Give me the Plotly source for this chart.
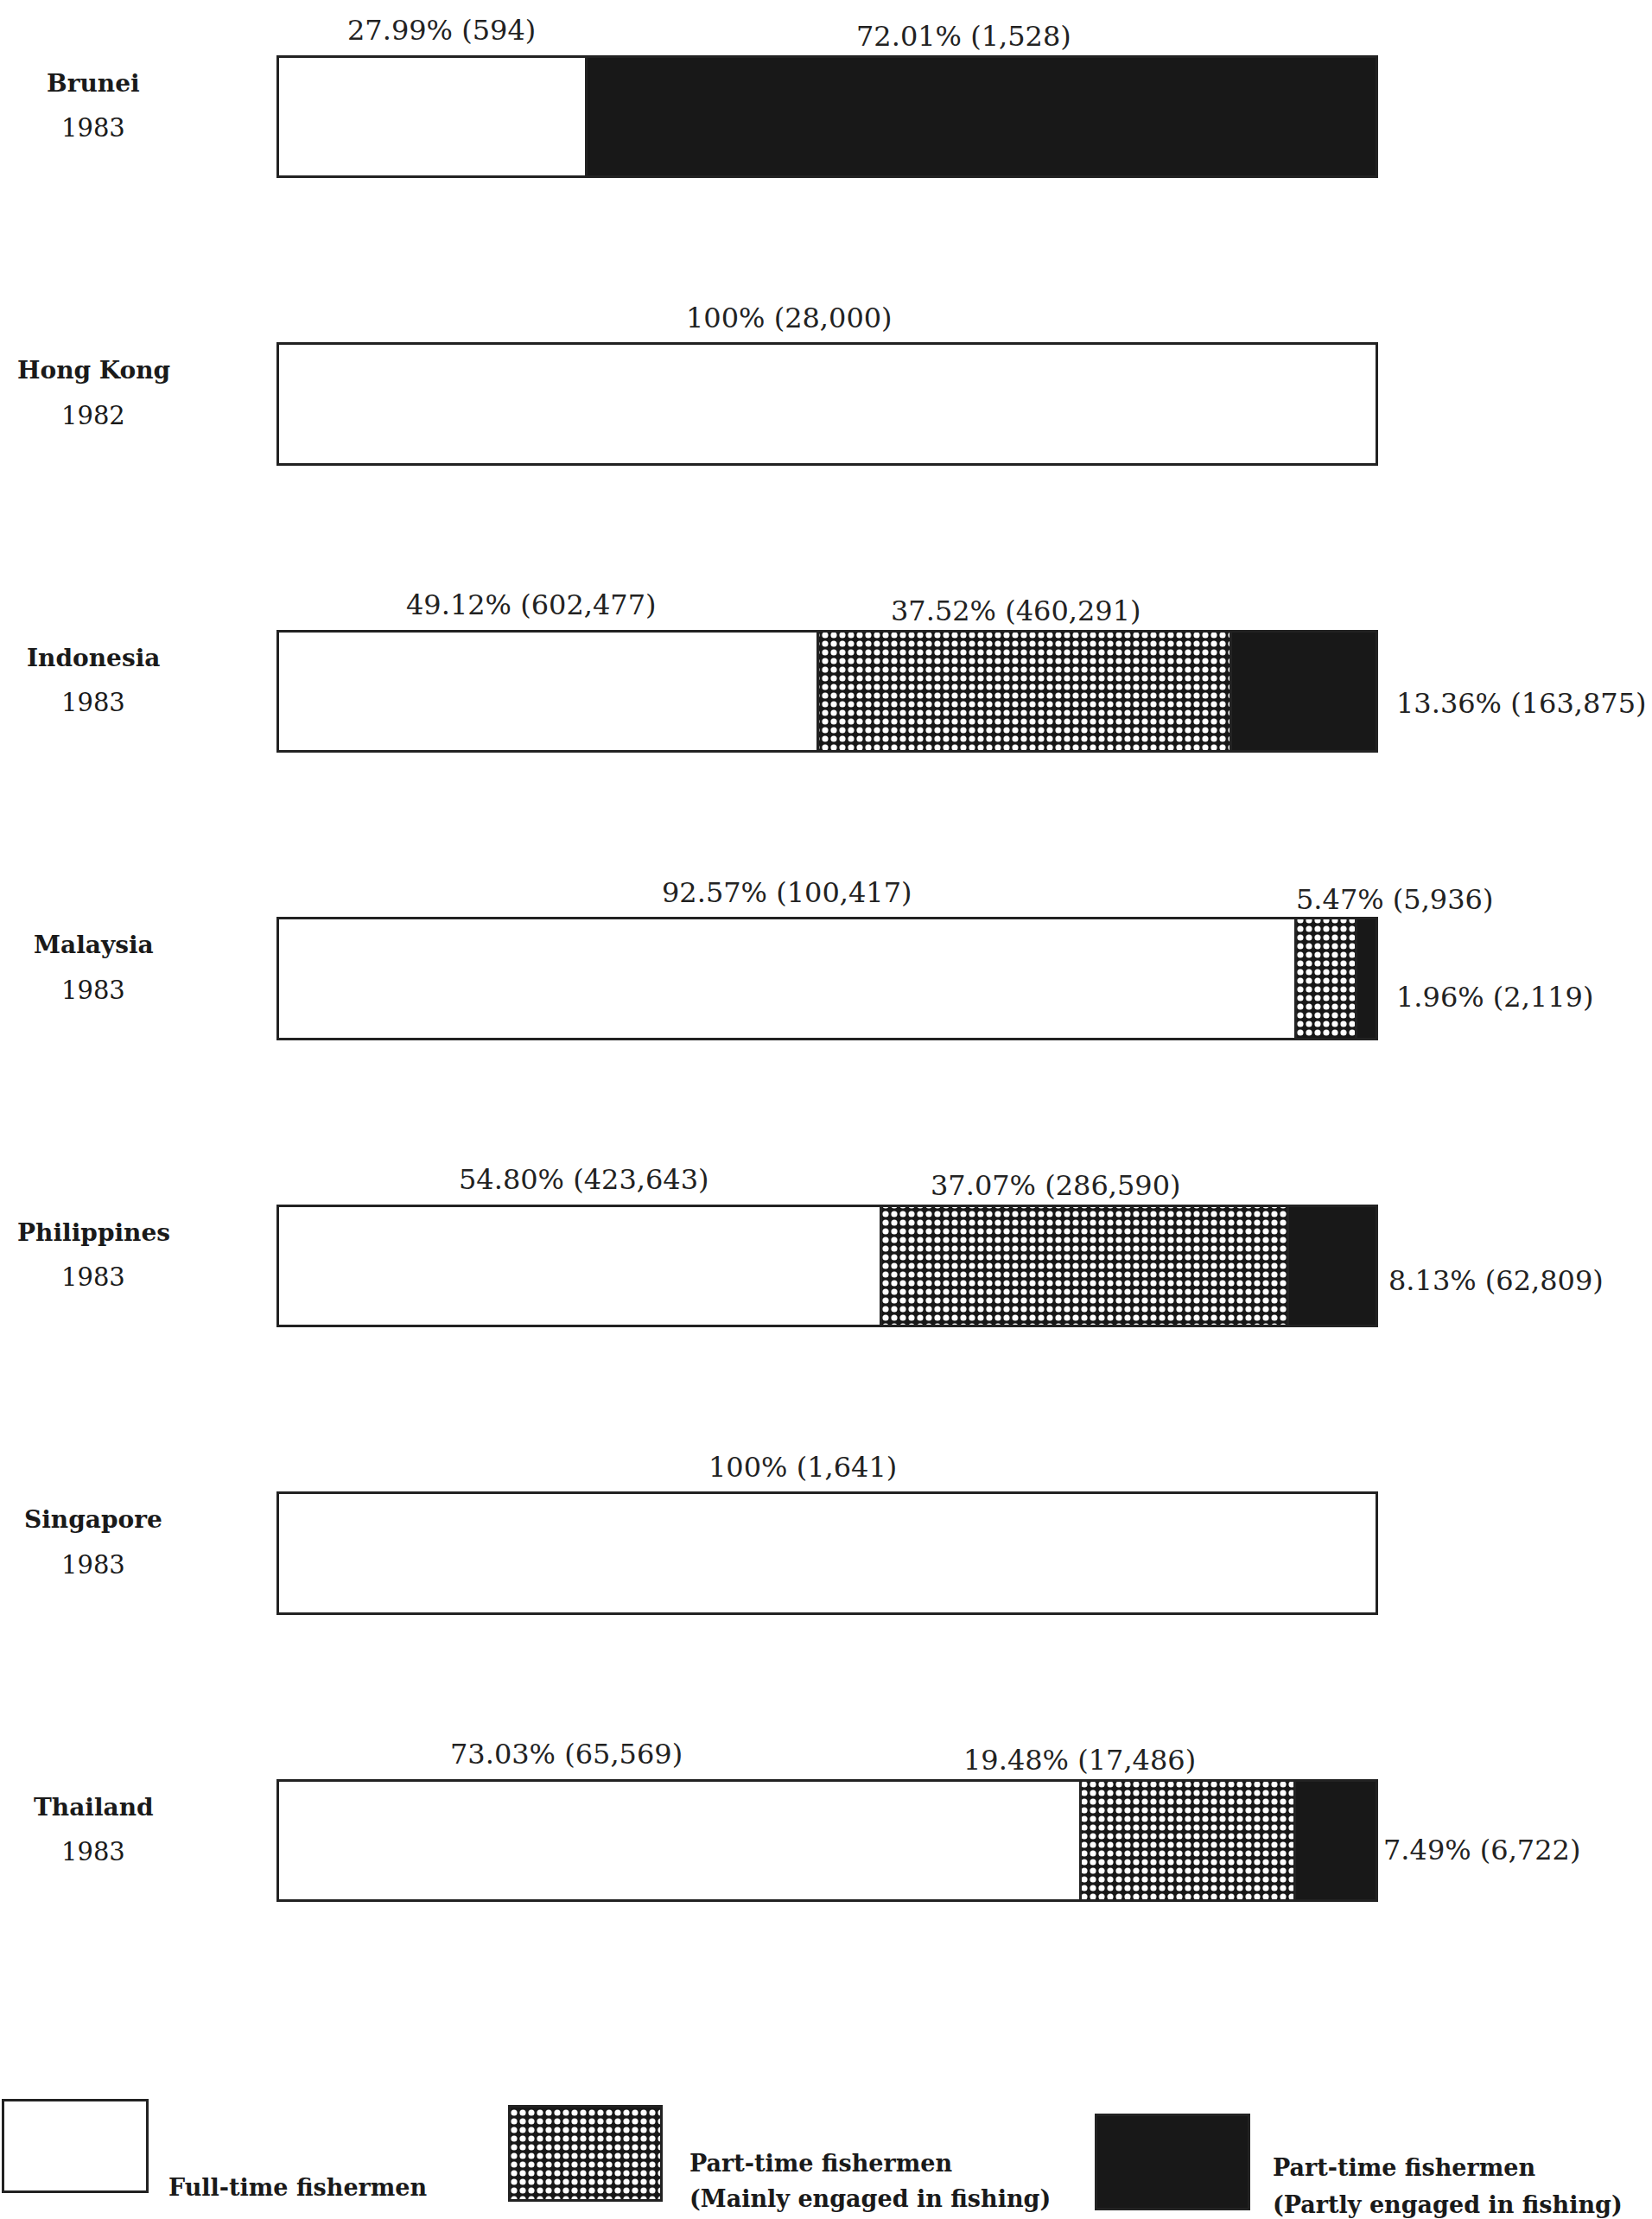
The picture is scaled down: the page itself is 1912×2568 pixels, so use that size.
import plotly.graph_objects as go

# ---------------- data ----------------
countries = ["Brunei", "Hong Kong", "Indonesia", "Malaysia", "Philippines", "Singapore", "Thailand"]
years = ["1983", "1982", "1983", "1983", "1983", "1983", "1983"]

full_pct = [27.99, 100, 49.12, 92.57, 54.80, 100, 73.03]
full_n = [594, 28000, 602477, 100417, 423643, 1641, 65569]

mainly_pct = [0, 0, 37.52, 5.47, 37.07, 0, 19.48]
mainly_n = [0, 0, 460291, 5936, 286590, 0, 17486]

partly_pct = [72.01, 0, 13.36, 1.96, 8.13, 0, 7.49]
partly_n = [1528, 0, 163875, 2119, 62809, 0, 6722]

series_names = ["Full-time fishermen",
                "Part-time fishermen (Mainly engaged in fishing)",
                "Part-time fishermen (Partly engaged in fishing)"]

# ---------------- styles ----------------
W, H = 1912, 2568
DARK = "#181818"
EDGE = "#222222"
FONT = "DejaVu Serif"
dot_pattern = dict(shape=".", fgcolor="white", bgcolor=DARK, size=10, solidity=0.4, fillmode="replace")

seg_styles = [
    dict(color="white", line=dict(color=EDGE, width=3)),
    dict(color=DARK, line=dict(color=EDGE, width=3), pattern=dot_pattern),
    dict(color=DARK, line=dict(color=EDGE, width=3)),
]

pcts = [full_pct, mainly_pct, partly_pct]
counts = [full_n, mainly_n, partly_n]

fig = go.Figure()
for k in range(3):
    fig.add_trace(go.Bar(
        y=countries,
        x=[v if v else None for v in pcts[k]],
        orientation="h",
        name=series_names[k],
        marker=seg_styles[k],
        width=0.42,
        showlegend=False,
        hoverinfo="skip",
    ))

# ---------------- value labels ----------------
def fmt_pct(p):
    return "100%" if p == 100 else f"{p:.2f}%"

# placement tweaks (layout only)
placement = {
    ("Indonesia", 2): ("right", 20, -14),
    ("Malaysia", 1): ("topright", 20, 92),
    ("Malaysia", 2): ("right", 20, -21),
    ("Philippines", 2): ("right", 11, -17),
    ("Thailand", 2): ("right", 5, -11),
}
top_shift = {
    ("Brunei", 0): 11, ("Brunei", 2): -20, ("Hong Kong", 0): -44,
    ("Indonesia", 0): -20, ("Indonesia", 1): -10, ("Malaysia", 0): 0,
    ("Philippines", 0): 5, ("Philippines", 1): -33, ("Singapore", 0): -29,
    ("Thailand", 0): -131, ("Thailand", 1): -125,
}

annotations = []
for i, c in enumerate(countries):
    cum = 0.0
    for k in range(3):
        p = pcts[k][i]
        if p:
            text = f"{fmt_pct(p)} ({counts[k][i]:,})"
            key = (c, k)
            if key in placement:
                mode, xs, ys = placement[key]
                annotations.append(dict(
                    x=100, y=c, xref="x", yref="y", text=text, showarrow=False,
                    xanchor="left" if mode == "right" else "center", yanchor="middle",
                    xshift=xs, yshift=ys,
                    font=dict(family=FONT, size=32, color="#222")))
            else:
                annotations.append(dict(
                    x=cum + p / 2, y=c, xref="x", yref="y", text=text, showarrow=False,
                    xanchor="center", yanchor="middle",
                    xshift=top_shift.get(key, 0), yshift=100 if k == 0 else 93,
                    font=dict(family=FONT, size=32, color="#222")))
        cum += p
    # country labels
    annotations.append(dict(
        x=108, y=c, xref="x2", yref="y", text=f"<b>{c}</b>", showarrow=False,
        xanchor="center", yanchor="middle", yshift=39,
        font=dict(family=FONT, size=28, color="#1a1a1a")))
    annotations.append(dict(
        x=108, y=c, xref="x2", yref="y", text=years[i], showarrow=False,
        xanchor="center", yanchor="middle", yshift=-13,
        font=dict(family=FONT, size=29, color="#1a1a1a")))

# ---------------- legend (drawn in pixel-space overlay axes) ----------------
leg_x = [87, 677, 1357]
leg_w = [167, 176, 177]
leg_base = [2430, 2437, 2447]
leg_h = [106, 109, 109]
for k in range(3):
    fig.add_trace(go.Bar(
        x=[leg_x[k]], y=[leg_h[k]], base=[leg_base[k]], width=[leg_w[k]],
        xaxis="x2", yaxis="y2", marker=seg_styles[k], showlegend=False,
        hoverinfo="skip",
    ))

leg_font = dict(family=FONT, size=27, color="#1a1a1a")
leg_texts = [
    (193, 2531, "<b>Full-time fishermen</b>"),
    (796, 2503, "<b>Part-time fishermen</b>"),
    (796, 2544, "<b>(Mainly engaged in fishing)</b>"),
    (1471, 2508, "<b>Part-time fishermen</b>"),
    (1471, 2551, "<b>(Partly engaged in fishing)</b>"),
]
for x, y, t in leg_texts:
    annotations.append(dict(x=x, y=y, xref="x2", yref="y2", text=t, showarrow=False,
                            xanchor="left", yanchor="middle", font=leg_font))

fig.update_layout(
    width=W, height=H,
    margin=dict(l=0, r=0, t=0, b=0),
    paper_bgcolor="white", plot_bgcolor="rgba(0,0,0,0)",
    barmode="stack",
    xaxis=dict(range=[-25.31, 125.0], visible=False, fixedrange=True),
    yaxis=dict(type="category", categoryorder="array", categoryarray=countries,
               range=[7.317, -0.406], visible=False, fixedrange=True),
    xaxis2=dict(range=[0, W], overlaying="x", visible=False, anchor="y2"),
    yaxis2=dict(range=[H, 0], overlaying="y", visible=False, anchor="x2"),
    annotations=annotations,
    font=dict(family=FONT),
)

fig.write_html("out.html", config={"displayModeBar": False},
               post_script="document.body.style.margin='0';")
